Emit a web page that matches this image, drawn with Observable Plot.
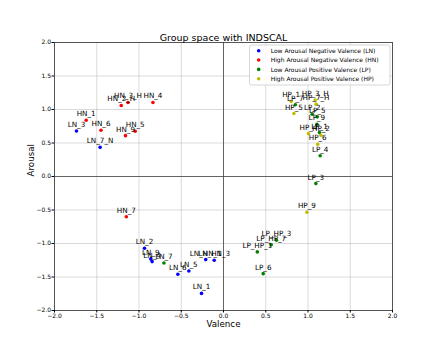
<!DOCTYPE html>
<html><head><meta charset="utf-8">
<script src="https://cdn.jsdelivr.net/npm/d3@7"></script>
<script src="https://cdn.jsdelivr.net/npm/@observablehq/plot@0.6"></script>
<style>body{margin:0;background:#fff} svg{display:block}</style>
</head><body><div id="chart"></div>
<script>
// Low Arousal Negative Valence (LN)
const lnNames = ["LN_3","LN_7_N","LN_2","LN_9","LN_4","LN_6","LN_5","LN_1","LN_HN_1","LN_HN_3"];
const lnX = [-1.74,-1.46,-0.935,-0.86,-0.845,-0.54,-0.41,-0.26,-0.21,-0.11];
const lnY = [0.68,0.435,-1.07,-1.23,-1.27,-1.46,-1.41,-1.745,-1.24,-1.25];
// High Arousal Negative Valence (HN)
const hnNames = ["HN_1","HN_6","HN_2_H","HN_3_H","HN_4","HN_9","HN_5","HN_7"];
const hnX = [-1.625,-1.45,-1.21,-1.13,-0.835,-1.16,-1.045,-1.15];
const hnY = [0.84,0.69,1.06,1.105,1.105,0.61,0.675,-0.60];
// Low Arousal Positive Valence (LP)
const lpNames = ["LN_7","LP_HP_1","LP_HP_7","LP_HP_3","LP_6","LP_3","LP_4","LP_1","LP_9","LP_5","LP_2","LP_7"];
const lpX = [-0.705,0.40,0.565,0.627,0.47,1.093,1.144,1.136,1.105,1.11,1.05,0.85];
const lpY = [-1.29,-1.125,-1.02,-0.95,-1.45,-0.106,0.31,0.655,0.78,0.89,0.93,1.07];
// High Arousal Positive Valence (HP)
const hpNames = ["HP_1","HP_3_H","HP_7_H","HP_5","HP_4","HP_2","HP_6","HP_9"];
const hpX = [0.80,1.085,1.095,0.833,1.006,1.153,1.115,0.987];
const hpY = [1.12,1.14,1.08,0.94,0.64,0.614,0.48,-0.534];

const groupKeys = ["LN","HN","LP","HP"];
const groupLabels = ["Low Arousal Negative Valence (LN)","High Arousal Negative Valence (HN)","Low Arousal Positive Valence (LP)","High Arousal Positive Valence (HP)"];
const groupColors = ["#0000ff","#ff0000","#008000","#bfbf00"];
const ticks = [-2,-1.5,-1,-0.5,0,0.5,1,1.5,2];
const title = "Group space with INDSCAL";
const xLabel = "Valence";
const yLabel = "Arousal";

const sets = [[lnNames,lnX,lnY],[hnNames,hnX,hnY],[lpNames,lpX,lpY],[hpNames,hpX,hpY]];
const data = sets.flatMap(([n,xs,ys],gi) => n.map((name,i)=>({name, x:xs[i], y:ys[i], group:groupKeys[gi]})));
const fmt = d3.format(".1f");

const plot = Plot.plot({
  width:436, height:349, marginLeft:54, marginRight:44, marginTop:42, marginBottom:39,
  style:{fontFamily:"DejaVu Sans", fontSize:"6px", background:"#fff", color:"#000"},
  x:{domain:[-2,2]},
  y:{domain:[-2,2]},
  color:{domain:groupKeys, range:groupColors},
  marks:[
    Plot.gridX(ticks, {stroke:"#b0b0b0", strokeOpacity:0.6, strokeWidth:0.8}),
    Plot.gridY(ticks, {stroke:"#b0b0b0", strokeOpacity:0.6, strokeWidth:0.8}),
    Plot.ruleX([0], {stroke:"#444", strokeWidth:0.8}),
    Plot.ruleY([0], {stroke:"#444", strokeWidth:0.8}),
    Plot.frame({stroke:"#333", strokeWidth:0.8}),
    Plot.axisX(ticks, {tickSize:2.5, tickPadding:1, label:null, tickFormat:fmt, fontSize:6}),
    Plot.axisY(ticks, {tickSize:2.5, tickPadding:1, label:null, tickFormat:fmt, fontSize:6}),
    Plot.dot(data, {x:"x", y:"y", fill:"group", r:1.8}),
    Plot.text(data, {x:"x", y:"y", text:"name", dy:-4, lineAnchor:"bottom", fontSize:7.2, fill:"#000"}),
    Plot.text([title], {frameAnchor:"top", dy:-2, lineAnchor:"bottom", fontSize:9.5, fill:"#000"}),
    Plot.text([xLabel], {frameAnchor:"bottom", dy:14, lineAnchor:"middle", fontSize:8.7, fill:"#000"}),
    Plot.text([yLabel], {frameAnchor:"left", dx:-23, rotate:-90, lineAnchor:"middle", fontSize:8.7, fill:"#000"})
  ]
});
document.getElementById("chart").appendChild(plot);

// legend box (upper right inside the plot)
const svg = d3.select(plot);
const lg = svg.append("g").attr("font-family","DejaVu Sans").attr("font-size",6).attr("text-anchor","start");
lg.append("rect").attr("x",249.5).attr("y",45).attr("width",140.5).attr("height",40).attr("rx",2)
  .attr("fill","white").attr("fill-opacity",0.85).attr("stroke","#ccc").attr("stroke-width",0.8);
groupKeys.forEach((k,i)=>{
  const cy = 50.7 + i*9.35;
  lg.append("circle").attr("cx",258.7).attr("cy",cy).attr("r",1.8).attr("fill",groupColors[i]);
  lg.append("text").attr("x",270.7).attr("y",cy).attr("dy","0.35em").attr("text-anchor","start").attr("fill","#000").text(groupLabels[i]);
});
</script>
</body></html>
